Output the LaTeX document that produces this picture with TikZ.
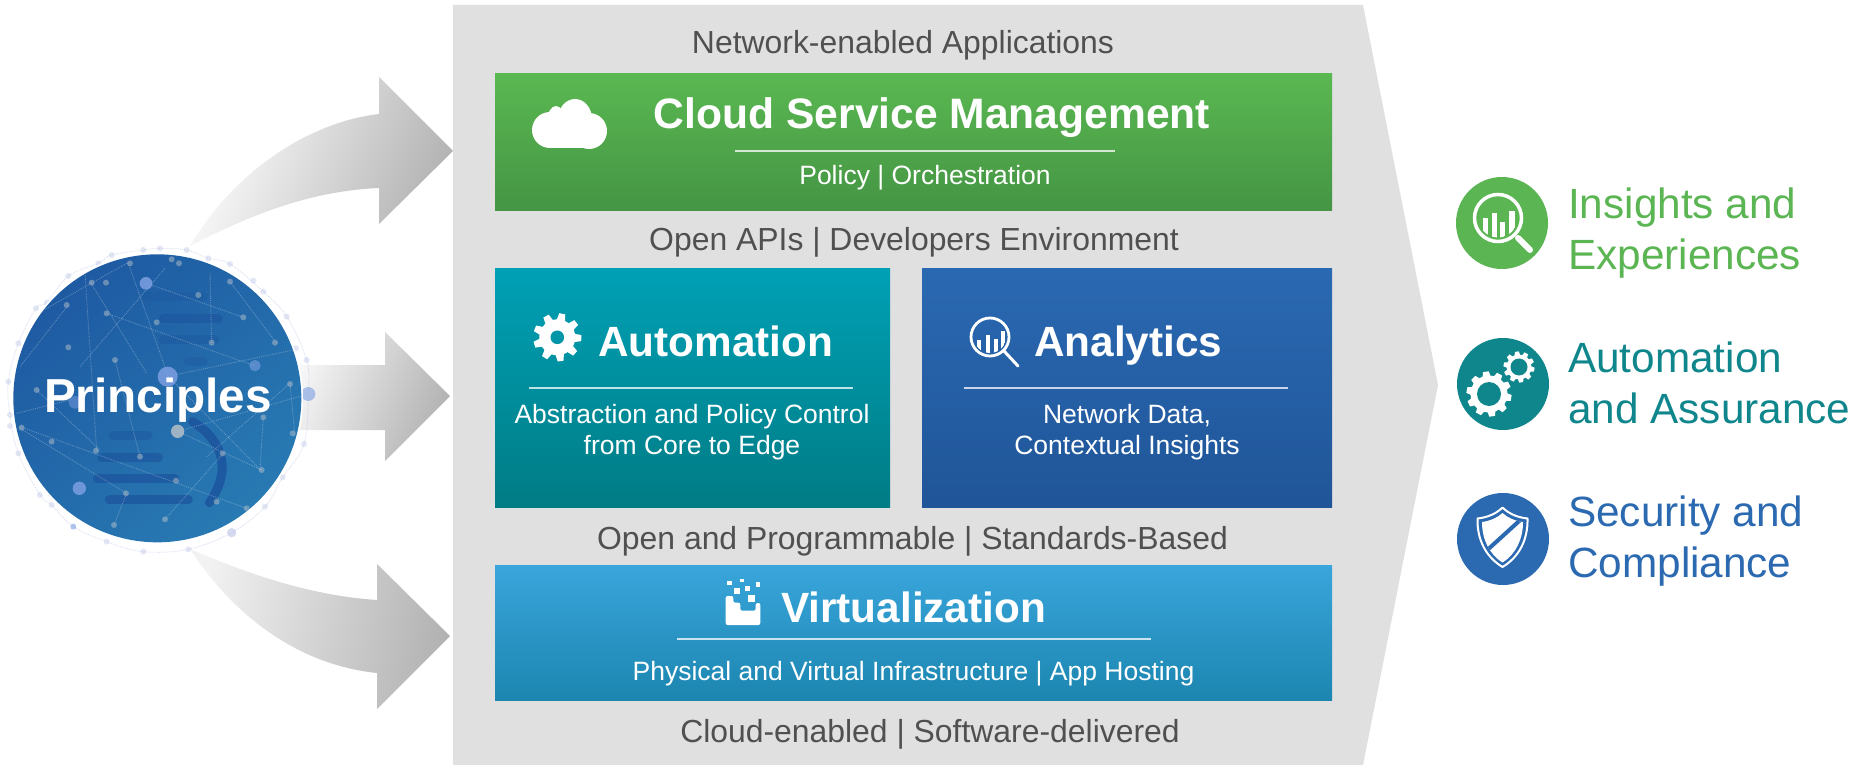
\documentclass[tikz,border=0pt]{standalone}
\usepackage{fontspec}
\setmainfont{Liberation Sans}
\usetikzlibrary{calc}
\definecolor{panelgray}{HTML}{E0E0E0}
\definecolor{darktext}{HTML}{505050}
\definecolor{igreen}{HTML}{5AB552}
\definecolor{iteal}{HTML}{0F868C}
\definecolor{iblue}{HTML}{2B69B0}
\definecolor{barblue}{HTML}{1A4E9A}
\definecolor{lav}{HTML}{B9C2E6}
\definecolor{bigd}{HTML}{7C9FE2}
\definecolor{smalld}{HTML}{B4BFC8}
\definecolor{globeA}{HTML}{1E5AA2}
\definecolor{globeB}{HTML}{287AB3}
\definecolor{cloudA}{HTML}{5AB851}
\definecolor{cloudB}{HTML}{459544}
\definecolor{autoA}{HTML}{00A0B5}
\definecolor{autoB}{HTML}{007C85}
\definecolor{autoH}{HTML}{0095A7}
\definecolor{anaA}{HTML}{2A69B2}
\definecolor{anaB}{HTML}{205598}
\definecolor{virtA}{HTML}{39A5DB}
\definecolor{virtB}{HTML}{1C86B0}
\tikzset{
  graytxt/.style={anchor=base,inner sep=0pt,text=darktext,font=\fontsize{31.9}{38}\selectfont},
  headtxt/.style={anchor=base west,inner sep=0pt,text=white,font=\bfseries\fontsize{42.3}{50}\selectfont},
  subtxt/.style={anchor=base,inner sep=0pt,text=white,align=center,font=\fontsize{26.5}{31}\selectfont},
  outtxt/.style={anchor=base west,inner sep=0pt,align=left,font=\fontsize{42.3}{51}\selectfont},
  bandbox/.style={anchor=north west,inner sep=0pt,minimum width=#1},
  outcircle/.style={circle,inner sep=0pt,minimum size=92pt,fill=#1},
  rulew/.style={draw=white,opacity=.75,line width=1.1pt},
  blockarrow/.style={top color=#1,bottom color=black!30,shading angle=68,draw=none},
  netline/.style={draw=white,opacity=.28,line width=.9pt,densely dotted},
  bar/.style={draw=barblue,opacity=.6,line width=9pt,line cap=round},
  smalldot/.style={fill=smalld,opacity=.5,draw=none},
  bigdot/.style={fill=bigd,opacity=.85,draw=none},
}
% centre x, centre y, body radius, tip radius, hole radius, teeth, tooth half width, hole colour
\newcommand{\gearicon}[8]{%
  \begin{scope}[shift={(#1,#2)}]
    \fill[white] (0,0) circle[radius=#3];
    \foreach \k in {1,...,#6}{
      \fill[white,rotate=\k*360/#6+8] (#7,#3-1) -- (#7*.72,#4) -- (-#7*.72,#4) -- (-#7,#3-1) -- cycle;
    }
    \fill[#8] (0,0) circle[radius=#5];
  \end{scope}}
\begin{document}
\begin{tikzpicture}[x=1pt,y=-1pt]
\useasboundingbox (0,0) rectangle (1864,765);
\fill[white] (0,0) rectangle (1864,765);
% central panel
\fill[panelgray] (453,5) -- (1363,5) -- (1438,385) -- (1363,765) -- (453,765) -- cycle;
% block arrows
\shade[blockarrow=white] (190,246) .. controls (235,170) and (310,122) .. (379,114)
  -- (379,77) -- (453,151) -- (379,224) -- (379,188)
  .. controls (310,191) and (250,215) .. (190,246) -- cycle;
\shade[blockarrow=white] (270,365) -- (385,365) -- (385,332) -- (450,396) -- (385,461) -- (385,430) -- (270,430) -- cycle;
\shade[blockarrow=black!5,shading angle=80] (190,549) .. controls (230,566) and (300,595) .. (377,600)
  -- (377,564) -- (450,636) -- (377,709) -- (377,673)
  .. controls (300,665) and (235,618) .. (190,549) -- cycle;
% globe
\begin{scope}[x=.33333pt,y=-.33333pt,shift={(0,720)}]
  \draw[lav,opacity=.5,line width=.9pt,densely dotted] plot[smooth cycle,tension=.6] coordinates {(480,25) (430,30) (335,45) (295,70) (205,108) (140,188) (108,205) (55,310) (25,425) (30,525) (55,640) (120,765) (155,795) (220,860) (320,905) (430,935) (565,928) (695,878) (795,800) (848,712) (912,612) (925,462) (920,360) (860,230) (790,155) (690,72) (625,55) (560,30)};
  \foreach \p in {(480,25),(430,30),(335,45),(295,70),(205,108),(140,188),(108,205),(55,310),(25,425),(30,525),(30,558),(55,640),(120,765),(155,795),(320,905),(430,935),(565,928),(795,800),(848,712),(912,612),(920,360),(888,325),(860,230),(790,155),(760,122),(690,72),(625,55),(560,30)}
    \fill[lav,opacity=.4] \p circle[radius=9];
  \fill[bigdot,opacity=.6] (925,462) circle[radius=21];
  \fill[bigdot,opacity=.6] (220,860) circle[radius=9];
  \fill[lav,opacity=.6] (695,878) circle[radius=14];
  \fill[white] (472,475) circle[radius=437];
  \shade[top color=globeA,bottom color=globeB,shading angle=40] (472,475) circle[radius=432];
  \begin{scope}
    \clip (472,475) circle[radius=432];
    \draw[bar,opacity=.2] (440,170) -- (610,170);
    \draw[bar,opacity=.45] (490,237) -- (655,237);
    \draw[bar,opacity=.3] (490,300) -- (645,300);
    \draw[bar,opacity=.25] (565,365) -- (610,365);
    \draw[bar,opacity=.35] (340,587) -- (445,587);
    \draw[bar,opacity=.5] (305,653) -- (475,653);
    \draw[bar] (292,717) -- (525,717);
    \draw[bar] (328,779) -- (565,779);
    \draw[bar,opacity=.7] (578,545) .. controls (680,610) and (690,700) .. (628,788);
    \foreach \s/\t in {{(255,100)}/{(290,632)},{(270,125)}/{(440,400)},{(495,85)}/{(240,380)},{(320,220)}/{(765,378)},{(440,130)}/{(730,232)},{(385,70)}/{(505,410)},{(60,565)}/{(380,760)},{(60,560)}/{(740,805)},{(630,100)}/{(635,308)},{(880,330)}/{(500,410)},{(870,430)}/{(620,650)},{(495,838)}/{(670,640)},{(782,690)}/{(505,410)},{(870,430)}/{(885,590)},{(50,520)}/{(210,480)},{(342,855)}/{(380,760)},{(205,195)}/{(60,380)},{(345,360)}/{(420,650)},{(535,575)}/{(785,690)},{(110,450)}/{(300,630)},{(925,462)}/{(530,575)},{(60,250)}/{(380,70)},{(690,125)}/{(830,310)},{(790,530)}/{(780,690)}}
      \draw[netline] \s -- \t;
    \foreach \p in {(275,128),(318,128),(205,322),(320,220),(345,360),(470,247),(635,308),(595,165),(730,232),(690,125),(825,308),(870,432),(790,532),(878,580),(785,690),(668,640),(528,722),(420,650),(288,632),(110,450),(155,605),(65,563),(378,760),(650,785),(495,838),(342,855),(740,805),(515,58),(537,70),(390,70),(200,195)}
      \fill[smalldot] \p circle[radius=9];
    \fill[bigdot] (438,130) circle[radius=19];
    \fill[bigdot] (503,410) circle[radius=30];
    \fill[smalld,opacity=.85] (533,574) circle[radius=20];
    \fill[bigdot,opacity=.6] (765,377) circle[radius=17];
    \fill[bigdot] (238,745) circle[radius=20];
    \fill[bigdot,opacity=.5] (225,487) circle[radius=19];
  \end{scope}
\end{scope}
\node[anchor=base,inner sep=0pt,text=white,font=\bfseries\fontsize{47.7}{56}\selectfont] (principles) at (158,412) {Principles};
% coloured bands
\node[bandbox=837pt,minimum height=137pt,top color=cloudA,bottom color=cloudB] (cloudbox) at (495,73) {};
\node[bandbox=395pt,minimum height=239pt,top color=autoA,bottom color=autoB] (autobox) at (495,268) {};
\node[bandbox=410pt,minimum height=239pt,top color=anaA,bottom color=anaB] (anabox) at (922,268) {};
\node[bandbox=837pt,minimum height=135pt,top color=virtA,bottom color=virtB] (virtbox) at (495,565) {};
% gray captions
\node[graytxt] (netapps) at (903,54) {Network-enabled Applications};
\node[graytxt] (apis) at (914,250) {Open APIs | Developers Environment};
\node[graytxt] (openprog) at (912.5,549) {Open and Programmable | Standards-Based};
\node[graytxt] (cloudsoft) at (930,742) {Cloud-enabled | Software-delivered};
% band headings
\node[headtxt,anchor=base,font=\bfseries\fontsize{42.6}{50}\selectfont] (cloudhead) at (932,129) {Cloud Service Management};
\node[headtxt] (autohead) at (598,356) {Automation};
\node[headtxt] (anahead) at (1034,356) {Analytics};
\node[headtxt] (virthead) at (781,622) {Virtualization};
% band rules
\coordinate (r1a) at (735,151); \coordinate (r1b) at (1115,151);
\coordinate (r2a) at (529,388); \coordinate (r2b) at (853,388);
\coordinate (r3a) at (964,388); \coordinate (r3b) at (1288,388);
\coordinate (r4a) at (677,639); \coordinate (r4b) at (1151,639);
\draw[rulew] (r1a) -- (r1b);
\draw[rulew] (r2a) -- (r2b);
\draw[rulew] (r3a) -- (r3b);
\draw[rulew] (r4a) -- (r4b);
% band subtitles
\node[subtxt] (policy) at (925,184) {Policy | Orchestration};
\node[subtxt] (absa) at (692,454) {Abstraction and Policy Control\\from Core to Edge};
\node[subtxt] (neta) at (1127,454) {Network Data,\\Contextual Insights};
\node[subtxt] (phys) at (913.5,680) {Physical and Virtual Infrastructure | App Hosting};
% cloud icon
\begin{scope}
  \fill[white] (550,130) circle[radius=18];
  \fill[white] (589,131) circle[radius=18];
  \fill[white] (575,119) ellipse[x radius=17,y radius=20];
  \fill[white] (556,122) ellipse[x radius=9,y radius=16];
  \fill[white] (550,125) rectangle (590,148.5);
\end{scope}
% automation gear
\gearicon{557.3}{337.3}{18}{24}{6.8}{9}{4.2}{autoH}
% analytics magnifier
\begin{scope}
  \draw[white,line width=2.8pt] (990,337) circle[radius=19];
  \draw[white,line width=3pt,line cap=round] (1004,351) -- (1018,366);
  \clip (990,337) circle[radius=16];
  \fill[white] (977,340) rectangle +(4,20);
  \fill[white] (985.5,335) rectangle +(4,25);
  \fill[white] (994,339) rectangle +(4,20);
  \fill[white] (1001,331) rectangle +(4,30);
\end{scope}
% virtualization icon
\begin{scope}
  \fill[white,rounded corners=2pt] (725.7,596) -- (733.3,596) -- (733.3,602.7) -- (740.3,602.7) -- (740.3,610.7) -- (755.7,610.7) -- (755.7,603) -- (760.3,603) -- (760.3,625) -- (725.7,625) -- cycle;
  \foreach \a/\b/\c/\d in {727.3/581.3/731.7/585.3,740/579/744/582,755.7/581.7/760/586.7,745/585.7/749.7/590.7,734/588.3/740/594,747.7/594.7/755/601.7}
    \fill[white] (\a,\b) rectangle (\c,\d);
\end{scope}
% outcome circles
\node[outcircle=igreen] (c1) at (1502,223) {};
\node[outcircle=iteal] (c2) at (1503,384) {};
\node[outcircle=iblue] (c3) at (1503,539) {};
% outcome 1 icon
\begin{scope}
  \draw[white,line width=3.5pt] (1498,218) circle[radius=23.5];
  \draw[white,line width=6pt,line cap=round] (1518,238) -- (1530,250);
  \clip (1498,218) circle[radius=19.5];
  \fill[white] (1482.5,218) rectangle +(5.5,25);
  \fill[white] (1491.5,213) rectangle +(5.5,30);
  \fill[white] (1499.5,222) rectangle +(5.5,25);
  \fill[white] (1509,211) rectangle +(5.5,30);
\end{scope}
% outcome 2 icon
\gearicon{1489}{394}{18.5}{22.5}{12}{10}{4}{iteal}
\gearicon{1519}{367}{12.5}{15.5}{8.5}{10}{2.8}{iteal}
% outcome 3 icon
\begin{scope}
  \draw[white,line width=2pt,line join=round] (1502.5,507.5) .. controls (1496,514) and (1487,517.5) .. (1477.5,518.5)
    .. controls (1477,540) and (1486,557) .. (1502.5,567) .. controls (1519,557) and (1528,540) .. (1527.5,518.5)
    .. controls (1518,517.5) and (1509,514) .. (1502.5,507.5) -- cycle;
  \begin{scope}
    \path[clip] (1502.5,513) .. controls (1497,518) and (1490,521) .. (1482,522)
    .. controls (1482,539) and (1489,554) .. (1502.5,562.5) .. controls (1516,554) and (1523,539) .. (1523,522)
    .. controls (1515,521) and (1508,518) .. (1502.5,513) -- cycle;
    \fill[white] (1470,500) rectangle (1535,570);
    \draw[iblue,line width=4pt] (1484,553) -- (1528,513);
  \end{scope}
\end{scope}
% outcome texts
\node[outtxt,text=igreen] (t1) at (1568,269) {Insights and\\Experiences};
\node[outtxt,text=iteal] (t2) at (1568,423) {Automation\\and Assurance};
\node[outtxt,text=iblue] (t3) at (1568,577) {Security and\\Compliance};
\end{tikzpicture}
\end{document}
